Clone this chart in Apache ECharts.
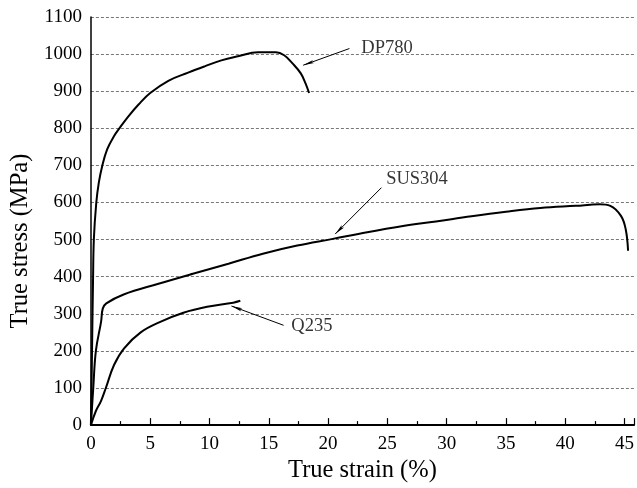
<!DOCTYPE html>
<html>
<head>
<meta charset="utf-8">
<script src="https://cdn.jsdelivr.net/npm/echarts@6/dist/echarts.min.js"></script>
<style>html,body{margin:0;padding:0;background:#fff;}#c{width:637px;height:488px;}</style>
</head>
<body>
<div id="c"></div>
<script>
// Data (strain %, stress MPa)
var dp780Strain = [0, 0.06, 0.12, 0.18, 0.25, 0.45, 0.67, 0.95, 1.37, 1.93, 2.49, 3.18, 4.02, 5.0, 6.53, 8.2, 9.6, 11.0, 12.4, 14.1, 15.6, 16.3, 17.0, 17.7, 18.1, 18.4];
var dp780Stress = [0, 120, 260, 390, 502, 598, 654, 698, 743, 778, 804, 833, 864, 895, 928, 950, 967, 983, 994, 1005, 1005, 997, 975, 948, 921, 895];

var sus304Strain = [0, 0.2, 0.42, 0.86, 1.0, 1.3, 2.76, 5.7, 8.6, 11.6, 14.5, 17.4, 20.4, 23.3, 26.2, 29.1, 32.1, 35.0, 37.9, 40.9, 42.9, 43.8, 44.7, 45.1, 45.3];
var sus304Stress = [0, 100, 200, 279, 314, 328, 352, 381, 408, 435, 462, 484, 502, 520, 536, 549, 563, 575, 585, 591, 595, 591, 564, 528, 470];

var q235Strain = [0, 0.42, 0.84, 1.26, 1.95, 2.8, 4.2, 5.9, 7.8, 9.8, 12.0, 12.6];
var q235Stress = [0, 38, 64, 100, 162, 207, 250, 279, 303, 319, 330, 335];

var xTicks = [0, 5, 10, 15, 20, 25, 30, 35, 40, 45];
var yTicks = [0, 100, 200, 300, 400, 500, 600, 700, 800, 900, 1000, 1100];

// Annotations: label text, label anchor, arrow start, arrow tip
var annLabels = ['DP780', 'SUS304', 'Q235'];
var annLabelPos = [[22.8, 1015], [24.9, 662], [16.9, 266]];
var annArrowFrom = [[21.8, 1015], [24.5, 640], [16.25, 269]];
var annArrowTo = [[17.9, 970], [20.6, 515], [11.85, 321]];

function pairs(xs, ys) { return xs.map(function (x, i) { return [x, ys[i]]; }); }

var FONT = '"Liberation Serif", "Times New Roman", serif';
var ARROW_PATH = 'path://M4,0 L8,14 L4,11 L0,14 Z';
var chart = echarts.init(document.getElementById('c'), null, {renderer: 'canvas'});

var arrowData = annArrowFrom.map(function (f, i) {
  return [{coord: f}, {coord: annArrowTo[i]}];
});

var option = {
  animation: false,
  backgroundColor: '#fff',
  grid: {left: 90, top: 17, right: 0, bottom: 61, containLabel: false},
  xAxis: [{
    type: 'value', min: 0, max: 45.8, interval: 5,
    name: 'True strain (%)', nameLocation: 'middle', nameGap: 32,
    nameTextStyle: {fontFamily: FONT, fontSize: 24.5, color: '#000'},
    axisLine: {show: true, onZero: false, lineStyle: {color: '#000', width: 1.5}},
    axisTick: {show: true, inside: true, length: 7, lineStyle: {color: '#000', width: 1.2}},
    minorTick: {show: true, splitNumber: 2, length: 4, lineStyle: {color: '#000', width: 1.2}},
    axisLabel: {fontFamily: FONT, fontSize: 19, color: '#000', margin: 9, showMaxLabel: false,
      formatter: function (v) { return xTicks.indexOf(v) >= 0 ? String(v) : ''; }},
    splitLine: {show: false}
  }, {
    type: 'value', position: 'top', min: 0, max: 45.8,
    axisLine: {show: true, lineStyle: {color: '#000', width: 1.8}},
    axisTick: {show: false}, axisLabel: {show: false}, splitLine: {show: false}
  }],
  yAxis: {
    type: 'value', min: 0, max: 1100, interval: 100,
    name: 'True stress (MPa)', nameLocation: 'middle', nameGap: 57,
    nameTextStyle: {fontFamily: FONT, fontSize: 24.5, color: '#000', padding: [0, 40, 0, 0]},
    axisLine: {show: true, lineStyle: {color: '#000', width: 1.5}},
    axisTick: {show: false},
    axisLabel: {fontFamily: FONT, fontSize: 19, color: '#000', margin: 9,
      formatter: function (v) { return yTicks.indexOf(v) >= 0 ? String(v) : ''; }},
    splitLine: {show: true, lineStyle: {color: '#777', width: 1, type: [3, 2]}}
  },
  series: [
    {id: 'dp780', name: 'DP780', type: 'line', data: pairs(dp780Strain, dp780Stress), smooth: 0.4, showSymbol: false,
      lineStyle: {color: '#000', width: 2}, z: 3},
    {id: 'sus304', name: 'SUS304', type: 'line', data: pairs(sus304Strain, sus304Stress), smooth: 0.4, showSymbol: false,
      lineStyle: {color: '#000', width: 2}, z: 3,
      markLine: {
        silent: true, animation: false,
        symbol: ['none', 'none'],
        lineStyle: {color: '#000', width: 1, type: 'solid'},
        label: {show: false},
        emphasis: {disabled: true},
        data: arrowData
      }},
    {id: 'q235', name: 'Q235', type: 'line', data: pairs(q235Strain, q235Stress), smooth: 0.4, showSymbol: false,
      lineStyle: {color: '#000', width: 2}, z: 3},
    {id: 'labels', name: 'labels', type: 'scatter', symbolSize: 0,
      data: annLabelPos.map(function (p, i) { return {value: p, name: annLabels[i]}; }),
      label: {show: true, position: 'right', distance: 0, formatter: function (p) { return p.name; },
        fontFamily: FONT, fontSize: 18.5, color: '#000'},
      silent: true, z: 4},
    {id: 'arrowheads', name: 'arrowheads', type: 'scatter', symbol: ARROW_PATH, symbolKeepAspect: true,
      symbolSize: [6, 11], itemStyle: {color: '#000', opacity: 1}, silent: true, z: 5, data: []}
  ]
};
chart.setOption(option);

// Arrowheads: placed and oriented through the chart's own coordinate conversion
var HEAD_LEN = 11;
var heads = annArrowTo.map(function (tip, i) {
  var p0 = chart.convertToPixel({gridIndex: 0}, annArrowFrom[i]);
  var p1 = chart.convertToPixel({gridIndex: 0}, tip);
  var dx = p1[0] - p0[0], dy = p1[1] - p0[1];
  var L = Math.sqrt(dx * dx + dy * dy);
  var c = [p1[0] - dx / L * HEAD_LEN / 2, p1[1] - dy / L * HEAD_LEN / 2];
  var val = chart.convertFromPixel({gridIndex: 0}, c);
  var rot = Math.atan2(-dx, -dy) * 180 / Math.PI;
  return {value: val, symbolRotate: rot};
});
chart.setOption({series: [{id: 'arrowheads', data: heads}]});
</script>
</body>
</html>
